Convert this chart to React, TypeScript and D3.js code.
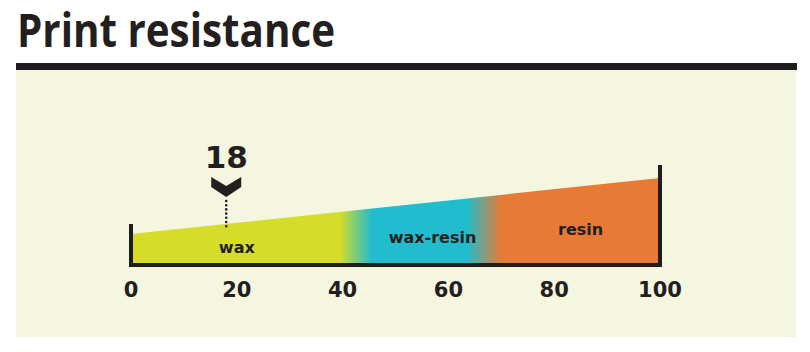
import React from 'react'
import * as d3 from 'd3'

// chart values
const title = 'Print resistance'
const tickValues = [0, 20, 40, 60, 80, 100]
const categories = ['wax', 'wax-resin', 'resin']
const categoryLabelAt = [20, 57, 85]
const categoryColors = ['#d5dc2a', '#21bccd', '#e77a34']
// where each colour band starts / ends (blends in between)
const bandFrom = [0, 45.5, 70]
const bandTo = [39.5, 63.5, 100]
const markerValue = 18

const W = 810
const H = 352
const textColor = '#231f20'
const numFont = "'DejaVu Sans', 'Open Sans', sans-serif"

export default function App() {
  const x = d3.scaleLinear().domain([0, 100]).range([131, 660])
  // height of the wedge grows with resistance
  const y = d3.scaleLinear().domain([0, 100]).range([234, 178])
  const base = 263
  const axisY = 265

  const wedge = d3.area<number>()
    .x(d => x(d))
    .y0(base)
    .y1(d => y(d))

  const stops: { offset: number; color: string }[] = []
  categories.forEach((_, i) => {
    stops.push({ offset: bandFrom[i], color: categoryColors[i] })
    stops.push({ offset: bandTo[i], color: categoryColors[i] })
  })

  const mx = x(markerValue)
  const chevTop = 177
  const chevron = [
    [mx - 15, chevTop], [mx, chevTop + 9], [mx + 15, chevTop],
    [mx + 15, chevTop + 10], [mx, chevTop + 20], [mx - 15, chevTop + 10],
  ]

  return (
    <svg width={W} height={H} style={{ position: 'absolute', left: 0, top: 0, background: '#fff' }}>
      <defs>
        <linearGradient id="bands" gradientUnits="userSpaceOnUse" x1={x(0)} x2={x(100)} y1={0} y2={0}>
          {stops.map((s, i) => (
            <stop key={i} offset={`${s.offset}%`} stopColor={s.color} />
          ))}
        </linearGradient>
      </defs>

      <text x={17} y={47} fontFamily="'Liberation Sans Narrow', 'Open Sans', sans-serif" fontWeight="bold"
        fontSize={46} fill={textColor} textLength={318} lengthAdjust="spacingAndGlyphs">
        {title}
      </text>
      <rect x={16} y={63} width={781} height={7} fill="#1f1d1e" />
      <rect x={16} y={70} width={780} height={267} fill="#f4f6df" />

      <path d={wedge([0, 100]) ?? ''} fill="url(#bands)" />

      {categories.map((c, i) => {
        const v = categoryLabelAt[i]
        const mid = (y(v) + base) / 2
        return (
          <text key={c} x={x(v)} y={mid + 10} textAnchor="middle" fontFamily={numFont}
            fontWeight="bold" fontSize={16} fill={textColor}>
            {c}
          </text>
        )
      })}

      <g stroke="#1f1d1e" strokeWidth={4} fill="none">
        <line x1={x(0) - 2} x2={x(100) + 2} y1={axisY} y2={axisY} />
        <line x1={x(0)} x2={x(0)} y1={224} y2={axisY + 2} />
        <line x1={x(100)} x2={x(100)} y1={165} y2={axisY + 2} />
      </g>

      {tickValues.map(t => (
        <text key={t} x={x(t)} y={297} textAnchor="middle" fontFamily={numFont} fontWeight="bold"
          fontSize={21} fill={textColor}>
          {t}
        </text>
      ))}

      <line x1={mx} x2={mx} y1={chevTop + 24} y2={y(markerValue) + 4} stroke={textColor}
        strokeWidth={2.6} strokeLinecap="round" strokeDasharray="0,4.2" />
      <path d={d3.line()(chevron as [number, number][]) + 'Z'} fill={textColor} />
      <text x={mx} y={168} textAnchor="middle" fontFamily={numFont} fontWeight="bold" fontSize={31}
        fill={textColor}>
        {markerValue}
      </text>
    </svg>
  )
}
